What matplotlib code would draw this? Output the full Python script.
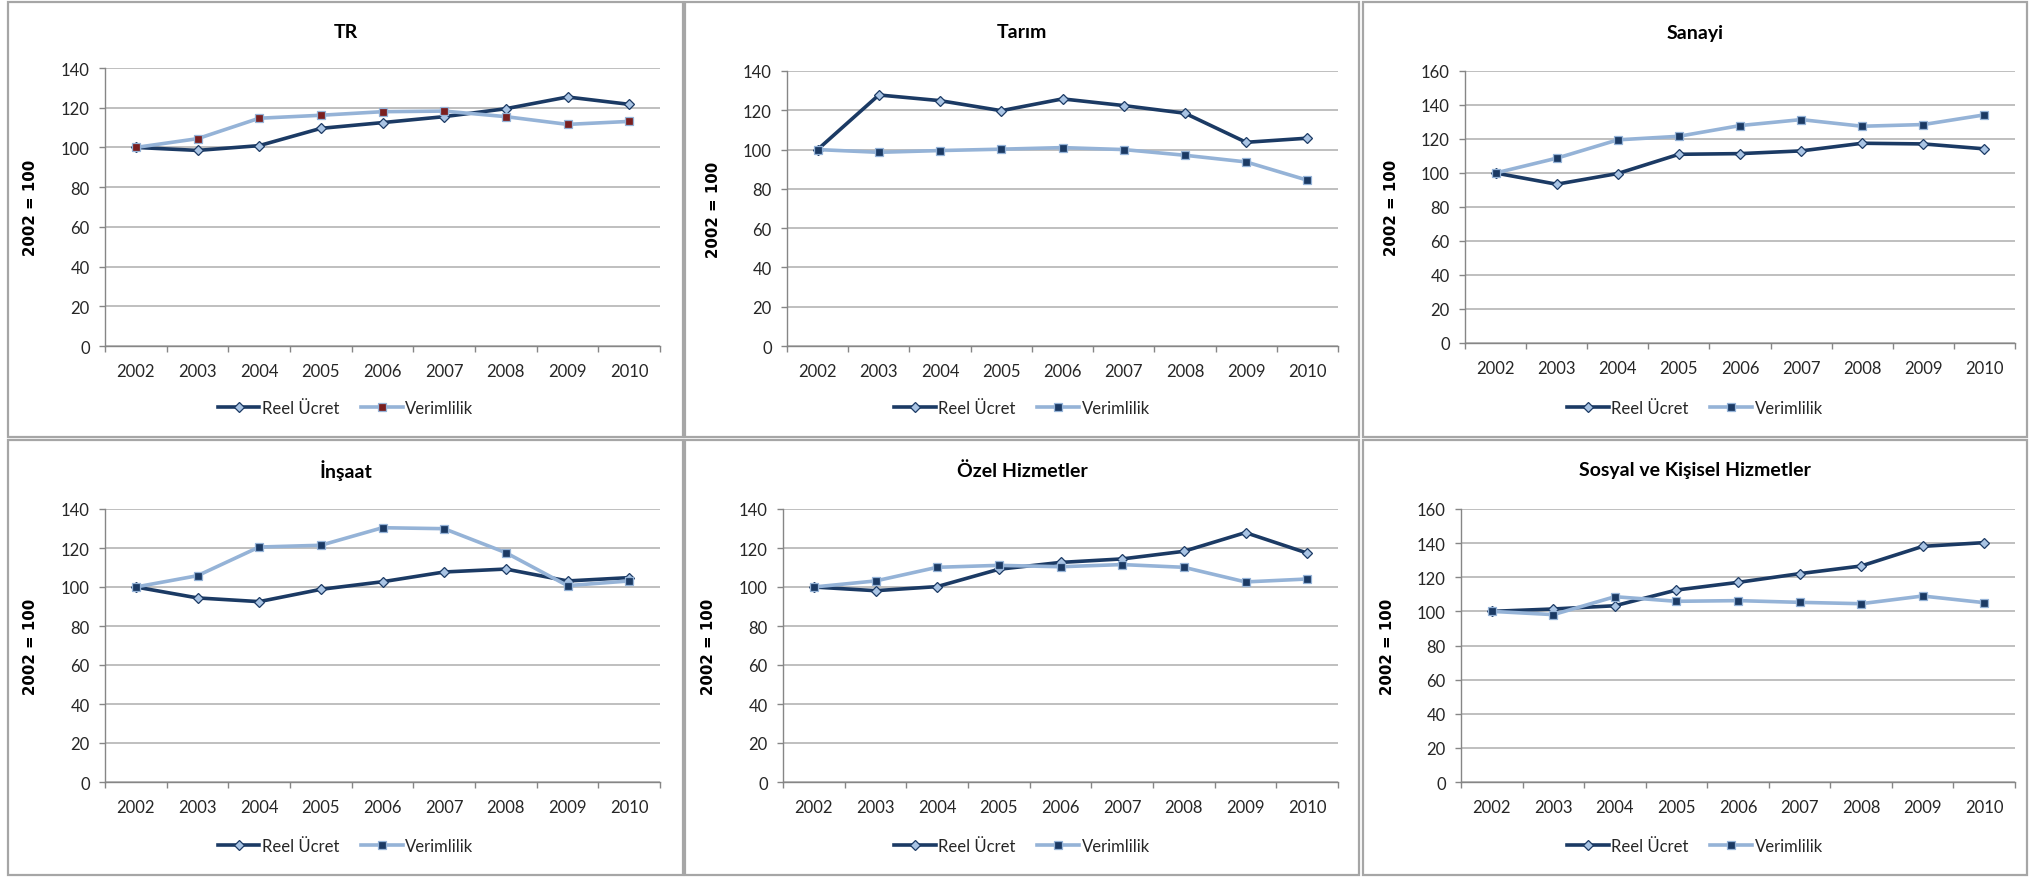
import matplotlib
matplotlib.use("Agg")
import matplotlib.pyplot as plt
from matplotlib.patches import Rectangle

# figure size in pixels
W, H = 2029, 878

years = ["2002", "2003", "2004", "2005", "2006", "2007", "2008", "2009", "2010"]
titles = ["TR", "Tarım", "Sanayi", "İnşaat", "Özel Hizmetler", "Sosyal ve Kişisel Hizmetler"]
series_names = ["Reel Ücret", "Verimlilik"]

# values (2002 = 100)
tr_reel = [100, 98.5, 100.9, 109.6, 112.5, 115.5, 119.5, 125.4, 121.7]
tr_verim = [100, 104.4, 114.7, 116.2, 118.0, 118.3, 115.5, 111.6, 113.1]
tarim_reel = [100, 127.8, 124.9, 119.8, 125.8, 122.4, 118.5, 103.7, 105.8]
tarim_verim = [100, 98.6, 99.5, 100.2, 101.0, 100.0, 97.1, 93.7, 84.4]
sanayi_reel = [100, 93.4, 99.7, 111.0, 111.4, 113.0, 117.5, 117.1, 114.2]
sanayi_verim = [100, 108.7, 119.5, 121.6, 127.9, 131.4, 127.5, 128.5, 134.2]
insaat_reel = [100, 94.4, 92.5, 98.8, 102.7, 107.7, 109.2, 103.1, 104.8]
insaat_verim = [100, 105.8, 120.5, 121.4, 130.4, 129.9, 117.6, 100.7, 103.1]
ozel_reel = [100, 98.1, 100.2, 109.1, 112.6, 114.4, 118.3, 127.9, 117.4]
ozel_verim = [100, 103.1, 110.1, 111.1, 110.4, 111.5, 110.1, 102.6, 104.1]
sosyal_reel = [100, 101.4, 103.3, 112.5, 117.0, 122.1, 126.6, 138.1, 140.3]
sosyal_verim = [100, 98.1, 108.6, 105.9, 106.3, 105.3, 104.5, 109.0, 105.1]

reel = [tr_reel, tarim_reel, sanayi_reel, insaat_reel, ozel_reel, sosyal_reel]
verim = [tr_verim, tarim_verim, sanayi_verim, insaat_verim, ozel_verim, sosyal_verim]
ymax = [140, 140, 160, 140, 140, 160]

# plot areas and panel frames in pixels: left, top, right, bottom
boxes = [(105, 69, 660, 347), (787, 72, 1338, 347), (1465, 72, 2015, 344),
         (105, 510, 660, 783), (783, 510, 1338, 783), (1461, 510, 2015, 783)]
frames = [(8, 3, 683, 438), (685, 3, 1359, 438), (1363, 3, 2027, 438),
          (8, 441, 683, 876), (685, 441, 1359, 876), (1363, 441, 2027, 876)]

dark = "#1B3A64"
light = "#95B3D7"
grid_c = "#B4B4B4"
text_c = "#262626"

plt.rcParams["font.family"] = ["Lato", "DejaVu Sans"]

fig = plt.figure(figsize=(W / 100, H / 100), dpi=100)

for i in range(6):
	fl, ft, fr, fb = frames[i]
	fig.patches.append(Rectangle((fl / W, 1 - fb / H), (fr - fl) / W, (fb - ft) / H,
		transform=fig.transFigure, fill=False, edgecolor="#A6A6A6", linewidth=1.6))

	l, t, r, b = boxes[i]
	ax = fig.add_axes([l / W, 1 - b / H, (r - l) / W, (b - t) / H])
	x = list(range(len(years)))

	sq_face = "#7A1F1F" if i == 0 else dark
	ax.plot(x, reel[i], color=dark, linewidth=2.6, marker="D", markersize=5.5,
		markerfacecolor="#A9C4E4", markeredgecolor=dark, markeredgewidth=0.9,
		label=series_names[0], zorder=3)
	ax.plot(x, verim[i], color=light, linewidth=2.6, marker="s", markersize=5.5,
		markerfacecolor=sq_face, markeredgecolor=light, markeredgewidth=0.9,
		label=series_names[1], zorder=3)

	ax.set_xlim(-0.5, len(years) - 0.5)
	ax.set_ylim(0, ymax[i])
	ax.set_yticks(range(0, ymax[i] + 1, 20))
	ax.set_xticks(x)
	ax.set_xticklabels(years)
	ax.set_xticks([k - 0.5 for k in range(len(years) + 1)], minor=True)
	ax.tick_params(axis="x", which="major", length=0, pad=12, labelsize=12, labelcolor=text_c)
	ax.tick_params(axis="x", which="minor", length=4, width=1, color="#868686")
	ax.tick_params(axis="y", length=4, width=1, color="#868686", pad=7, labelsize=12, labelcolor=text_c)

	ax.grid(axis="y", color=grid_c, linewidth=1.2)
	ax.set_axisbelow(True)
	for s in ["top", "right"]:
		ax.spines[s].set_visible(False)
	for s in ["left", "bottom"]:
		ax.spines[s].set_color("#868686")
		ax.spines[s].set_linewidth(1)

	ax.set_ylabel("2002 = 100", family="DejaVu Sans", fontsize=10.8, fontweight="bold", color="black")
	ax.yaxis.set_label_coords(-0.12, 0.5)

	xc = (fl + fr) / 2 / W
	fig.text(xc, 1 - (ft + 30) / H, titles[i], ha="center", va="center",
		fontsize=14, fontweight="bold", color="black")
	ax.legend(loc="center", bbox_to_anchor=(xc, 1 - (ft + 406) / H), bbox_transform=fig.transFigure,
		ncol=2, frameon=False, fontsize=12, handlelength=2.5, handletextpad=0.15,
		columnspacing=1.3, labelcolor=text_c)

fig.savefig("out.png", dpi=100, facecolor="white")
